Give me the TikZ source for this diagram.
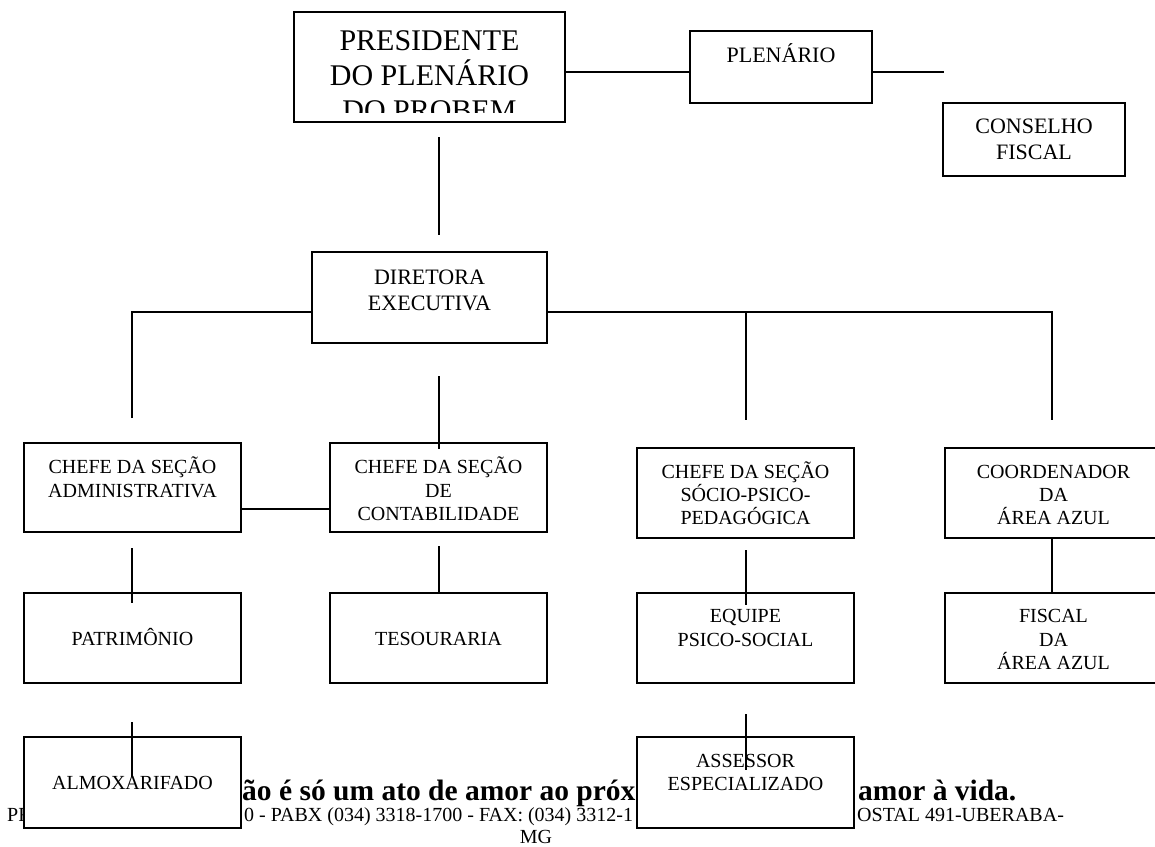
\documentclass[tikz,border=0pt]{standalone}
\usepackage{fontspec}
\setmainfont{Liberation Serif}
\begin{document}
\begin{tikzpicture}[x=1pt,y=-1pt,
  box/.style={draw, line width=1.3pt, fill=white, inner sep=0pt},
  bx/.style={box, minimum width=217pt, minimum height=90pt},
  tA/.style={font=\fontsize{20}{24}\selectfont, anchor=base, inner sep=0pt},
  tB/.style={font=\fontsize{22}{26}\selectfont, anchor=base, inner sep=0pt},
  tP/.style={font=\fontsize{30}{35}\selectfont, anchor=base, inner sep=0pt},
  fr/.style={font=\fontsize{20}{24}\selectfont, anchor=base west, inner sep=0pt},
  fb/.style={font=\fontsize{29.5}{34}\selectfont\bfseries, anchor=base west, inner sep=0pt},
  ln/.style={line width=1.5pt}]
\useasboundingbox (0,0) rectangle (1155,846);
\fill[white] (0,0) rectangle (1155,846);

% footer text (partly covered by boxes)
\node[fr] (f1) at (7,821) {PR};
\node[fb] (f2) at (242,800) {ão é só um ato de amor ao próx};
\node[fr] (f3) at (244,821) {0 - PABX (034) 3318-1700 - FAX: (034) 3312-1};
\node[fb] (f4) at (858,800) {amor à vida.};
\node[fr] (f5) at (857,821) {OSTAL 491-UBERABA-};
\node[tA] (f6) at (536,843) {MG};

% boxes
\node[box, minimum width=271pt, minimum height=110pt] (pres) at (429.5,67) {};
\node[box, minimum width=182pt, minimum height=72pt] (plen) at (781,67) {};
\node[box, minimum width=182pt, minimum height=73pt] (cons) at (1034,139.5) {};
\node[box, minimum width=235pt, minimum height=91pt] (dir) at (429.5,297.5) {};
\node[bx, minimum height=89pt] (adm) at (132.5,487.5) {};
\node[bx, minimum height=89pt] (con) at (438.5,487.5) {};
\node[bx] (soc) at (745.5,493) {};
\node[bx] (coo) at (1053.5,493) {};
\node[bx] (pat) at (132.5,638) {};
\node[bx] (tes) at (438.5,638) {};
\node[bx] (equ) at (745.5,638) {};
\node[bx] (fis) at (1053.5,638) {};
\node[bx, minimum height=91pt] (alm) at (132.5,782.5) {};
\node[bx, minimum height=91pt] (ass) at (745.5,782.5) {};

% texts
\begin{scope}
\clip (295,13) rectangle (564,112);
\node[tP] (p1) at (429.5,50) {PRESIDENTE};
\node[tP] (p2) at (429.5,85) {DO PLENÁRIO};
\node[tP] (p3) at (429.5,120) {DO PROBEM};
\end{scope}
\node[tB] (pl1) at (781,62) {PLENÁRIO};
\node[tB] (cs1) at (1034,133.5) {CONSELHO};
\node[tB] (cs2) at (1034,159.5) {FISCAL};
\node[tB] (d1) at (429.5,284) {DIRETORA};
\node[tB] (d2) at (429.5,310) {EXECUTIVA};
\node[tA] (a1) at (132.5,473) {CHEFE DA SEÇÃO};
\node[tA] (a2) at (132.5,497) {ADMINISTRATIVA};
\node[tA] (c1) at (438.5,473) {CHEFE DA SEÇÃO};
\node[tA] (c2) at (438.5,497) {DE};
\node[tA] (c3) at (438.5,520) {CONTABILIDADE};
\node[tA] (s1) at (745.5,478) {CHEFE DA SEÇÃO};
\node[tA] (s2) at (745.5,501) {SÓCIO-PSICO-};
\node[tA] (s3) at (745.5,524) {PEDAGÓGICA};
\node[tA] (k1) at (1053.5,478) {COORDENADOR};
\node[tA] (k2) at (1053.5,501) {DA};
\node[tA] (k3) at (1053.5,524) {ÁREA AZUL};
\node[tA] (pt1) at (132.5,645) {PATRIMÔNIO};
\node[tA] (ts1) at (438.5,645) {TESOURARIA};
\node[tA] (e1) at (745.5,622) {EQUIPE};
\node[tA] (e2) at (745.5,646) {PSICO-SOCIAL};
\node[tA] (fi1) at (1053.5,622) {FISCAL};
\node[tA] (fi2) at (1053.5,646) {DA};
\node[tA] (fi3) at (1053.5,669) {ÁREA AZUL};
\node[tA] (al1) at (132.5,789) {ALMOXARIFADO};
\node[tA] (as1) at (745.5,767) {ASSESSOR};
\node[tA] (as2) at (745.5,790) {ESPECIALIZADO};

% connectors
\coordinate (hy) at (0,72);
\coordinate (pe) at (944,72);
\coordinate (v1a) at (439,137);
\coordinate (v1b) at (439,235);
\coordinate (tl) at (132,312);
\coordinate (tlb) at (132,418);
\coordinate (tm) at (746,312);
\coordinate (tmb) at (746,420);
\coordinate (tr) at (1052,312);
\coordinate (trb) at (1052,420);
\coordinate (cv) at (439,376);
\coordinate (cvb) at (439,449);
\coordinate (h2) at (0,509);
\coordinate (pa) at (132,548);
\coordinate (pb) at (132,603);
\coordinate (ta) at (439,546);
\coordinate (ea) at (746,550);
\coordinate (eb) at (746,605);
\coordinate (aa) at (132,722);
\coordinate (ab) at (132,777);
\coordinate (sa) at (746,714);
\coordinate (sb) at (746,770);

\draw[ln] (pres.east |- hy) -- (plen.west |- hy);
\draw[ln] (plen.east |- hy) -- (pe);
\draw[ln] (v1a) -- (v1b);
\draw[ln] (tlb) -- (tl) -- (dir.west |- tl);
\draw[ln] (dir.east |- tr) -- (tr) -- (trb);
\draw[ln] (tm) -- (tmb);
\draw[ln] (cv) -- (cvb);
\draw[ln] (adm.east |- h2) -- (con.west |- h2);
\draw[ln] (pa) -- (pb);
\draw[ln] (ta) -- (tes.north -| ta);
\draw[ln] (ea) -- (eb);
\draw[ln] (coo.south -| tr) -- (fis.north -| tr);
\draw[ln] (aa) -- (ab);
\draw[ln] (sa) -- (sb);
\end{tikzpicture}
\end{document}
